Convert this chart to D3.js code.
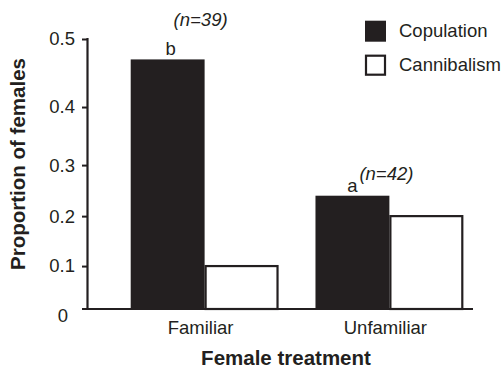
<!DOCTYPE html>
<html>
<head>
<meta charset="utf-8">
<script src="https://cdn.jsdelivr.net/npm/d3@7"></script>
<style>
  html, body { margin: 0; padding: 0; background: #fff; }
  svg { display: block; }
  text { font-family: "Liberation Sans", Arial, Helvetica, sans-serif; fill: #231f20; }
</style>
</head>
<body>
<svg id="chart" width="503" height="370"></svg>
<script>
// Proportion of females that copulated / cannibalised, by female treatment
const treatments = ["Familiar", "Unfamiliar"];
const seriesNames = ["Copulation", "Cannibalism"];
const copulation = [0.47, 0.24];
const cannibalism = [0.10, 0.20];
const sampleSizes = ["(n=39)", "(n=42)"];
const letters = ["b", "a"];
const yTicks = [0, 0.1, 0.2, 0.3, 0.4, 0.5];
const yTickLabels = ["0", "0.1", "0.2", "0.3", "0.4", "0.5"];

const ink = "#231f20";
const svg = d3.select("#chart");

// plot frame
const axisX = 87.5, yTop = 39, yBottom = 309, baseRight = 473;
const barsLeft = 130.7, barsRight = 463.3;

// the printed value axis is not evenly spaced; each tick keeps its own height
const tickFrac = [0, 0.159, 0.344, 0.533, 0.748, 1];
const y = d3.scaleLinear()
  .domain(yTicks)
  .range(tickFrac.map(f => yBottom - f * (yBottom - yTop)));

const x0 = d3.scaleBand().domain(treatments).range([barsLeft, barsRight]).paddingInner(0.2).paddingOuter(0);
const x1 = d3.scaleBand().domain(seriesNames).range([0, x0.bandwidth()]).padding(0);

const rows = treatments.map((t, i) => ({
  treatment: t,
  values: [
    { series: "Copulation", value: copulation[i] },
    { series: "Cannibalism", value: cannibalism[i] }
  ]
}));

// bars
const groups = svg.append("g").selectAll("g").data(rows).join("g")
  .attr("transform", d => `translate(${x0(d.treatment)},0)`);

groups.selectAll("rect").data(d => d.values).join("rect")
  .attr("x", d => x1(d.series) + (d.series === "Cannibalism" ? 1 : 0))
  .attr("y", d => y(d.value))
  .attr("width", d => x1.bandwidth() - (d.series === "Cannibalism" ? 2 : 0))
  .attr("height", d => y(0) - y(d.value))
  .attr("fill", d => d.series === "Copulation" ? ink : "#fff")
  .attr("stroke", d => d.series === "Copulation" ? "none" : ink)
  .attr("stroke-width", 2.2);

// y axis
const yAxis = d3.axisLeft(y)
  .tickValues(yTicks)
  .tickFormat((d, i) => yTickLabels[i])
  .tickSize(5.5)
  .tickPadding(7);

const gy = svg.append("g").attr("transform", `translate(${axisX},0)`).call(yAxis);
gy.select(".domain").remove();
gy.selectAll(".tick line").attr("stroke", ink).attr("stroke-width", 2);
gy.selectAll(".tick text")
  .attr("font-size", 18.5)
  .attr("font-family", "Liberation Sans, Arial, sans-serif")
  .attr("fill", ink);
// the zero label sits below and left of the corner
gy.selectAll(".tick").filter(d => d === 0).select("text")
  .attr("dx", -7).attr("dy", "0.7em");
gy.selectAll(".tick").filter(d => d === 0).select("line").remove();

// axis lines
svg.append("line")
  .attr("x1", axisX).attr("x2", axisX)
  .attr("y1", y(0.5) - 1).attr("y2", y(0))
  .attr("stroke", ink).attr("stroke-width", 2.2);
svg.append("line")
  .attr("x1", axisX - 5.5).attr("x2", baseRight)
  .attr("y1", y(0)).attr("y2", y(0))
  .attr("stroke", ink).attr("stroke-width", 2.2);

// category labels
svg.append("g").selectAll("text").data(treatments).join("text")
  .attr("x", d => x0(d) + x0.bandwidth() / 2 - 4)
  .attr("y", 334)
  .attr("text-anchor", "middle")
  .attr("font-size", 18.5)
  .text(d => d);

// significance letters above the copulation bars
svg.append("g").selectAll("text").data(rows).join("text")
  .attr("x", (d, i) => x0(d.treatment) + x1("Copulation") + x1.bandwidth() / 2 + (i === 0 ? 3 : 0))
  .attr("y", d => y(d.values[0].value) - 4)
  .attr("text-anchor", "middle")
  .attr("font-size", 18.5)
  .text((d, i) => letters[i]);

// sample sizes
const nPos = [{ dx: -4, y: 26 }, { dx: -3, y: 180 }];
svg.append("g").selectAll("text").data(treatments).join("text")
  .attr("x", (d, i) => x0(d) + x0.bandwidth() / 2 + nPos[i].dx)
  .attr("y", (d, i) => nPos[i].y)
  .attr("text-anchor", "middle")
  .attr("font-size", 18.5)
  .attr("font-style", "italic")
  .text((d, i) => sampleSizes[i]);

// axis titles
svg.append("text")
  .attr("x", 286)
  .attr("y", 365)
  .attr("text-anchor", "middle")
  .attr("font-size", 20.5)
  .attr("font-weight", "bold")
  .text("Female treatment");

svg.append("text")
  .attr("transform", "translate(25,164) rotate(-90)")
  .attr("text-anchor", "middle")
  .attr("font-size", 20.5)
  .attr("font-weight", "bold")
  .text("Proportion of females");

// legend
const legend = svg.append("g").attr("transform", "translate(365,20.7)");
const li = legend.selectAll("g").data(seriesNames).join("g")
  .attr("transform", (d, i) => `translate(0,${i * 34})`);
li.append("rect")
  .attr("x", d => d === "Copulation" ? 0 : 1)
  .attr("y", d => d === "Copulation" ? 0 : 1)
  .attr("width", d => d === "Copulation" ? 21 : 19)
  .attr("height", d => d === "Copulation" ? 21 : 19)
  .attr("fill", d => d === "Copulation" ? ink : "#fff")
  .attr("stroke", d => d === "Copulation" ? "none" : ink)
  .attr("stroke-width", 2.2);
li.append("text")
  .attr("x", 34)
  .attr("y", 16.5)
  .attr("font-size", 18.5)
  .text(d => d);
</script>
</body>
</html>
